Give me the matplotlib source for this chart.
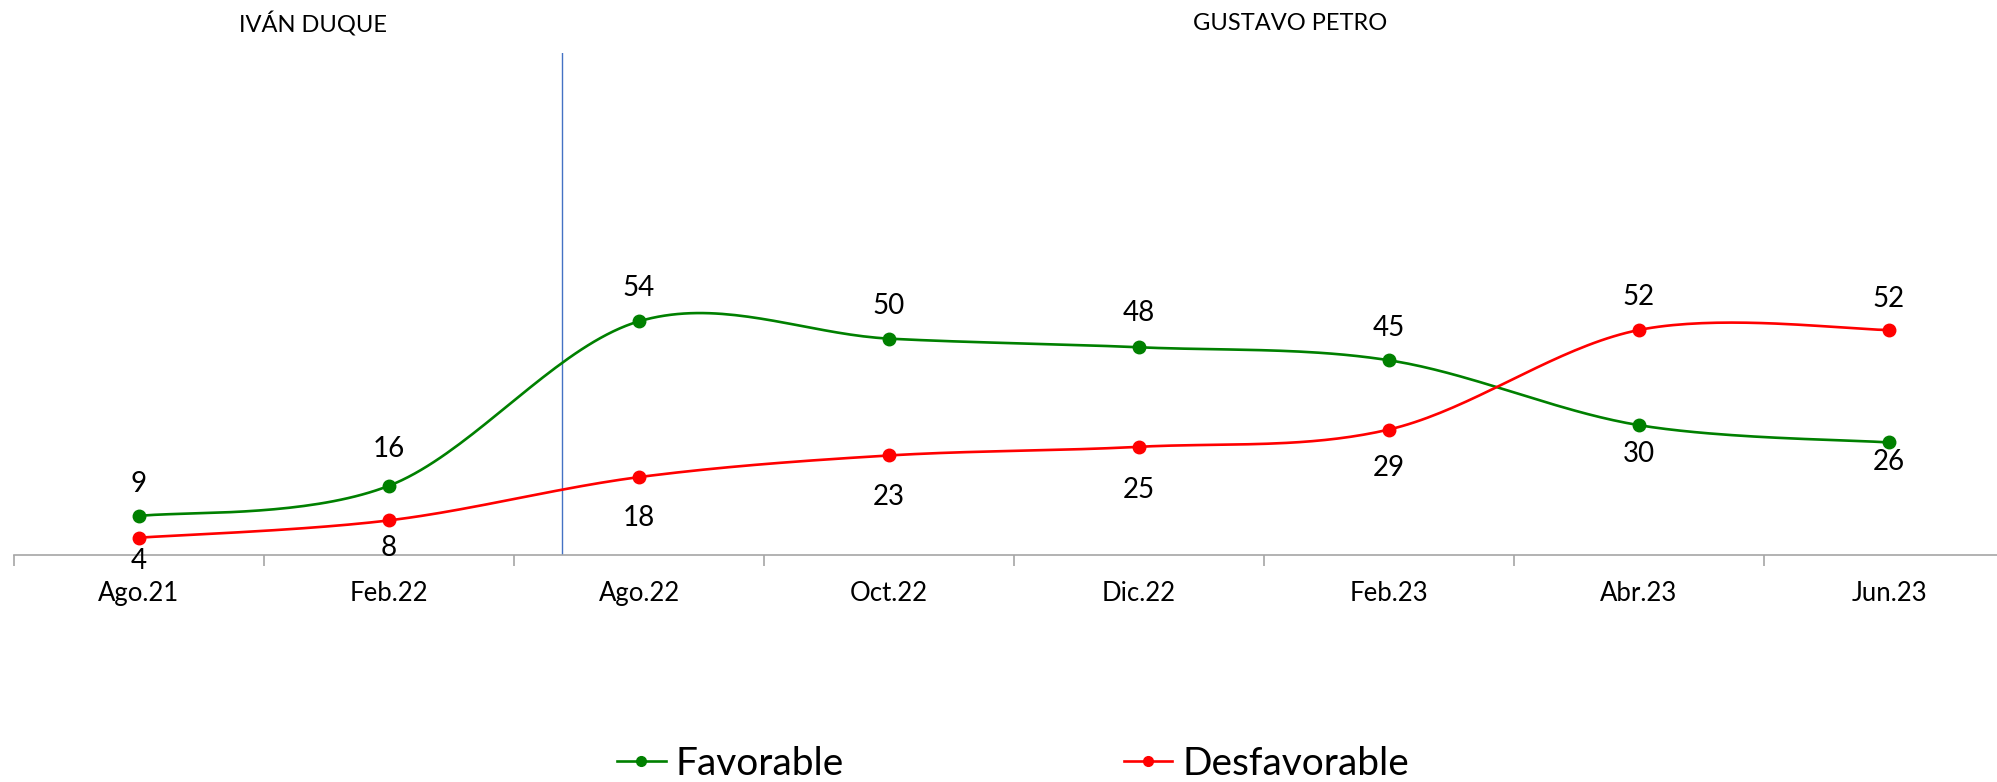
import numpy as np
import matplotlib
matplotlib.use("Agg")
from matplotlib import pyplot as plt

# survey periods and opinion shares (%)
periodos = ['Ago.21', 'Feb.22', 'Ago.22', 'Oct.22', 'Dic.22', 'Feb.23', 'Abr.23', 'Jun.23']
favorable = [9, 16, 54, 50, 48, 45, 30, 26]
desfavorable = [4, 8, 18, 23, 25, 29, 52, 52]

# vertical offset of each value label, in pixels
off_fav = [32, 37, 33, 33, 34, 32, -29, -20]
off_desf = [-23, -28, -41, -42, -43, -38, 33, 31]

plt.rcParams['font.family'] = ['Lato', 'DejaVu Sans']


def smooth(y, n=40):
    # excel-style smoothed line (catmull-rom as cubic bezier)
    y = np.asarray(y, dtype=float)
    x = np.arange(len(y), dtype=float)
    px = np.concatenate([[x[0]], x, [x[-1]]])
    py = np.concatenate([[y[0]], y, [y[-1]]])
    xs, ys = [], []
    t = np.linspace(0, 1, n)
    for i in range(len(y) - 1):
        p0x, p0y = px[i + 1], py[i + 1]
        p3x, p3y = px[i + 2], py[i + 2]
        c1x = p0x + (px[i + 2] - px[i]) / 6
        c1y = p0y + (py[i + 2] - py[i]) / 6
        c2x = p3x - (px[i + 3] - px[i + 1]) / 6
        c2y = p3y - (py[i + 3] - py[i + 1]) / 6
        b = [(1 - t) ** 3, 3 * (1 - t) ** 2 * t, 3 * (1 - t) * t ** 2, t ** 3]
        xs.append(b[0] * p0x + b[1] * c1x + b[2] * c2x + b[3] * p3x)
        ys.append(b[0] * p0y + b[1] * c1y + b[2] * c2y + b[3] * p3y)
    return np.concatenate(xs), np.concatenate(ys)


W, H = 1997, 782
fig = plt.figure(figsize=(W / 100, H / 100), dpi=100)
ax = fig.add_axes([14 / W, (H - 555) / H, 2000 / W, (555 - 53) / H])

x = np.arange(len(periodos))
for vals, offs, color, name in [(favorable, off_fav, '#008000', 'Favorable'),
                                (desfavorable, off_desf, '#ff0000', 'Desfavorable')]:
    sx, sy = smooth(vals)
    ax.plot(sx, sy, color=color, lw=1.9, zorder=3)
    ax.plot(x, vals, 'o', color=color, ms=9, zorder=4)
    ax.plot([], [], '-o', color=color, lw=1.9, ms=7, label=name)
    for xi, v, o in zip(x, vals, offs):
        ax.annotate(str(v), (xi, v), xytext=(0, o), textcoords='offset pixels',
                    ha='center', va='center', fontsize=20, color='black')

# change of government
ax.axvline(1.69, color='#4472c4', lw=1)

ax.set_xlim(-0.5, 7.5)
ax.set_ylim(0, 116)
ax.set_xticks(x)
ax.set_xticklabels(periodos, fontsize=18.5)
ax.set_xticks(np.arange(-0.5, 7.5, 1), minor=True)
ax.tick_params(axis='x', which='major', length=0, pad=19)
ax.tick_params(axis='x', which='minor', length=8, color='#a6a6a6', width=1.2, direction='out')
ax.set_yticks([])
for s in ['left', 'right', 'top']:
    ax.spines[s].set_visible(False)
ax.spines['bottom'].set_color('#a6a6a6')
ax.spines['bottom'].set_linewidth(1.2)

fig.text(313 / W, 1 - 24 / H, 'IVÁN DUQUE', ha='center', va='center', fontsize=17)
fig.text(1290 / W, 1 - 24 / H, 'GUSTAVO PETRO', ha='center', va='center', fontsize=17)

fig.legend(loc='center', bbox_to_anchor=(1013 / W, 1 - 764 / H), ncol=2, frameon=False,
           fontsize=28, handlelength=1.25, handletextpad=0.25, columnspacing=7.2)

plt.savefig('out.png', dpi=100)
